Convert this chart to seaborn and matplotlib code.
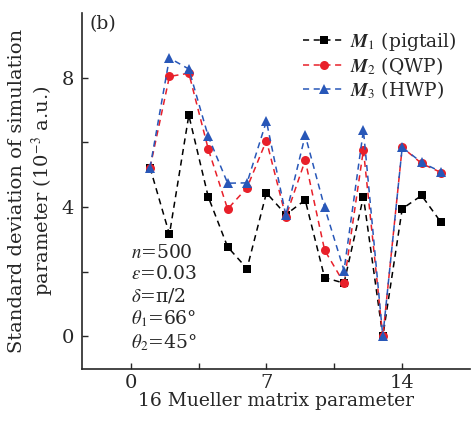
import numpy as np
import pandas as pd
import matplotlib
matplotlib.use('Agg')
import matplotlib.pyplot as plt
import seaborn as sns

# data
params = list(range(1, 17))
m1_pigtail = [5.22, 3.16, 6.84, 4.32, 2.77, 2.10, 4.44, 3.77, 4.22, 1.82, 1.65, 4.32, 0.0, 3.95, 4.36, 3.53]
m2_qwp = [5.22, 8.04, 8.14, 5.80, 3.94, 4.60, 6.06, 3.70, 5.45, 2.67, 1.65, 5.77, 0.0, 5.85, 5.35, 5.07]
m3_hwp = [5.22, 8.61, 8.27, 6.19, 4.74, 4.75, 6.66, 3.75, 6.22, 3.99, 2.04, 6.38, 0.0, 5.85, 5.38, 5.09]

labels = [r'$\mathbfit{M}_1$ (pigtail)', r'$\mathbfit{M}_2$ (QWP)', r'$\mathbfit{M}_3$ (HWP)']
colors = ['black', '#e8202a', '#2857b8']
markers = ['s', 'o', '^']
msizes = [5.5, 6.5, 7]

df = pd.DataFrame({
    'param': params * 3,
    'std': m1_pigtail + m2_qwp + m3_hwp,
    'series': [labels[0]] * 16 + [labels[1]] * 16 + [labels[2]] * 16,
})

sns.set_style('ticks')
plt.rcParams['font.family'] = ['DejaVu Serif']
plt.rcParams['mathtext.fontset'] = 'stix'
fs = 13.5

fig = plt.figure(figsize=(4.72, 4.22), dpi=100)
ax = fig.add_axes([0.174, 0.126, 0.822, 0.843])

for lab, col, mk, ms in zip(labels, colors, markers, msizes):
    sub = df[df['series'] == lab]
    sns.lineplot(data=sub, x='param', y='std', ax=ax, color=col, marker=mk,
                 markersize=ms, markeredgewidth=0, linestyle=(0, (4, 3)),
                 linewidth=1.1, label=lab)

ax.set_xlim(-2.5, 17.5)
ax.set_ylim(-1, 10)
ax.set_xticks([0, 7, 14])
ax.set_xticks([3.5, 10.5], minor=True)
ax.set_yticks([0, 4, 8])
ax.set_yticks([2, 6], minor=True)
ax.tick_params(which='both', direction='in', length=4, width=1, labelsize=14)
ax.tick_params(axis='y', pad=6)
sns.despine(ax=ax)
for sp in ['left', 'bottom']:
    ax.spines[sp].set_linewidth(1.2)

ax.set_xlabel('16 Mueller matrix parameter', fontsize=fs, labelpad=0)
ax.set_ylabel('Standard deviation of simulation\nparameter (10$^{-3}$ a.u.)', fontsize=14, labelpad=4)

ax.text(0.02, 0.995, '(b)', transform=ax.transAxes, fontsize=fs, va='top', ha='left')
ax.text(0.125, 0.197,
        '$n$=500\n$\\varepsilon$=0.03\n$\\delta$=π/2\n$\\theta_1$=66°\n$\\theta_2$=45°',
        transform=ax.transAxes, fontsize=fs, va='center', ha='left', linespacing=1.2)

leg = ax.legend(loc='upper right', bbox_to_anchor=(0.995, 0.985), frameon=False,
                fontsize=fs, handlelength=2.2, handletextpad=0.3,
                labelspacing=0.12, borderaxespad=0.2)

fig.savefig('out.png', dpi=100)
